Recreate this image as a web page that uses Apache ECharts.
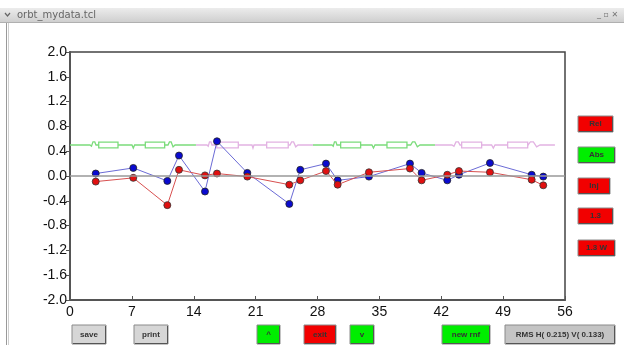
<!DOCTYPE html>
<html>
<head>
<meta charset="utf-8">
<script src="https://cdn.jsdelivr.net/npm/echarts@6/dist/echarts.min.js"></script>
<style>
html,body{margin:0;padding:0;background:#fff;}
#chart{width:624px;height:345px;}
</style>
</head>
<body>
<div id="chart"></div>
<script>
// ---- data ----
const bpmPos   = [2.91, 7.16, 11.01, 12.33, 15.27, 16.63, 20.06, 24.81, 26.05, 28.96, 30.28, 33.82, 38.46, 39.78, 42.68, 44.0, 47.51, 52.23, 53.54];
const orbitH   = [0.04, 0.13, -0.08, 0.33, -0.25, 0.56, 0.05, -0.45, 0.10, 0.20, -0.07, -0.01, 0.20, 0.05, -0.07, 0.02, 0.21, 0.02, -0.01];
const orbitV   = [-0.09, -0.03, -0.47, 0.10, 0.01, 0.04, -0.01, -0.14, -0.07, 0.08, -0.14, 0.06, 0.12, -0.07, 0.02, 0.08, 0.06, -0.06, -0.15];
const xTicks   = [0, 7, 14, 21, 28, 35, 42, 49, 56];
const yTicks   = [-2.0, -1.6, -1.2, -0.8, -0.4, 0.0, 0.4, 0.8, 1.2, 1.6, 2.0];

// lattice (magnet layout drawn at y = 0.5)
const latticeLevel     = 0.5;
const latticeCellStart = [0, 14.25, 27.49, 41.29];
const latticeCellEnd   = [14.25, 27.49, 41.29, 54.86];
const latticeBumpA     = [[2.26, 2.94], [15.5, 16.06], [29.64, 30.2], [43.21, 44.12]];
const latticeRect1     = [[3.25, 5.43], [16.6, 19.04], [30.62, 32.88], [44.31, 46.57]];
const latticeDip       = [[7.01, 7.31], [20.59, 20.81], [34.16, 34.5], [47.7, 48.08]];
const latticeRect2     = [[8.52, 10.71], [22.25, 24.69], [35.86, 38.12], [49.51, 51.78]];
const latticeBumpB     = [[11.09, 11.88], [24.89, 25.79], [38.54, 39.59], [51.81, 53.17]];

const rightButtons  = ['Rel', 'Abs', 'Inj', '1.3', '1.3 W'];
const bottomButtons = ['save', 'print', '^', 'exit', 'v', 'new rnf', 'RMS H( 0.215) V( 0.133)'];

// ---- build ----
const blueData = bpmPos.map((x, i) => [x, orbitH[i]]);
const redData  = bpmPos.map((x, i) => [x, orbitV[i]]);
const latticeData = latticeCellStart.map((s, i) => [
  s, latticeBumpA[i][0], latticeBumpA[i][1], latticeRect1[i][0], latticeRect1[i][1],
  latticeDip[i][0], latticeDip[i][1], latticeRect2[i][0], latticeRect2[i][1],
  latticeBumpB[i][0], latticeBumpB[i][1], latticeCellEnd[i], i
]);
const latticeColors = ['#7bdc7b', '#e2b2e2'];

function renderLattice(params, api) {
  const v = k => api.value(k);
  const L = latticeLevel;
  const c = (x, y) => api.coord([x, y]);
  const color = latticeColors[v(12) % 2];
  const pts = [];
  pts.push(c(v(0), L));
  // bump A
  let a = v(1), b = v(2), w = b - a;
  pts.push(c(a, L), c(a + 0.25 * w, L - 0.02), c(a + 0.5 * w, L + 0.05), c(a + 0.8 * w, L + 0.05), c(b, L));
  // dip
  a = v(5); b = v(6); w = b - a;
  pts.push(c(a, L), c(a + 0.5 * w, L - 0.05), c(b, L));
  // bump B
  a = v(9); b = v(10); w = b - a;
  pts.push(c(a, L), c(a + 0.2 * w, L + 0.05), c(a + 0.45 * w, L + 0.05), c(a + 0.72 * w, L - 0.03), c(b, L));
  pts.push(c(v(11), L));
  const rect = (x0, x1) => {
    const p0 = c(x0, L + 0.045), p1 = c(x1, L - 0.045);
    return { type: 'rect', shape: { x: p0[0], y: p0[1], width: p1[0] - p0[0], height: p1[1] - p0[1] },
             style: { fill: '#fff', stroke: color, lineWidth: 1.3 } };
  };
  return {
    type: 'group',
    children: [
      { type: 'polyline', shape: { points: pts }, style: { fill: null, stroke: color, lineWidth: 1.3 } },
      rect(v(3), v(4)),
      rect(v(7), v(8))
    ]
  };
}

function button(x, y, w, h, label, fill) {
  return {
    type: 'group', x: x, y: y,
    children: [
      { type: 'rect', shape: { x: 0, y: 0, width: w, height: h }, style: { fill: fill, stroke: '#8a8a8a', lineWidth: 1 } },
      { type: 'line', shape: { x1: 1, y1: h - 0.5, x2: w - 0.5, y2: h - 0.5 }, style: { stroke: '#555', lineWidth: 1 } },
      { type: 'line', shape: { x1: w - 0.5, y1: 1, x2: w - 0.5, y2: h - 0.5 }, style: { stroke: '#555', lineWidth: 1 } },
      { type: 'text', x: w / 2, y: h / 2, style: { text: label, fill: '#333', font: 'bold 8px "Liberation Sans", Arial, sans-serif', textAlign: 'center', textVerticalAlign: 'middle' } }
    ]
  };
}

const RED = '#f20000', GREEN = '#00ee00', GRAY = '#d6d6d6';
const rightColors = [RED, GREEN, RED, RED, RED];
const rightY = [116, 147, 178, 208, 240];
const rightW = [35, 37, 32, 35, 37];
const bottomX = [72, 134, 257, 304, 350, 442, 505];
const bottomW = [34, 34, 23, 32, 24, 48, 110];
const bottomColors = [GRAY, GRAY, GREEN, RED, GREEN, GREEN, '#c4c4c4'];

const graphics = [
  { type: 'rect', shape: { x: 0, y: 8, width: 624, height: 14 },
    style: { fill: new echarts.graphic.LinearGradient(0, 0, 0, 1, [{ offset: 0, color: '#ececec' }, { offset: 1, color: '#cfcfcf' }]) } },
  { type: 'line', shape: { x1: 0, y1: 22.5, x2: 624, y2: 22.5 }, style: { stroke: '#b0b0b0', lineWidth: 1 } },
  { type: 'polyline', shape: { points: [[5, 13], [7.5, 16], [10, 13]] }, style: { fill: null, stroke: '#666', lineWidth: 1.2 } },
  { type: 'text', x: 17, y: 15, style: { text: 'orbt_mydata.tcl', fill: '#666', font: '10px "DejaVu Sans", sans-serif', textVerticalAlign: 'middle' } },
  { type: 'text', x: 597, y: 15, style: { text: '_ ▫ ✕', fill: '#777', font: '8px "DejaVu Sans", sans-serif', textVerticalAlign: 'middle' } },
  { type: 'line', shape: { x1: 6.5, y1: 23, x2: 6.5, y2: 345 }, style: { stroke: '#9a9a9a', lineWidth: 1 } },
  { type: 'line', shape: { x1: 8.5, y1: 23, x2: 8.5, y2: 345 }, style: { stroke: '#cfcfcf', lineWidth: 1 } }
];
rightButtons.forEach((t, i) => graphics.push(button(578, rightY[i], rightW[i], 16, t, rightColors[i])));
bottomButtons.forEach((t, i) => graphics.push(button(bottomX[i], 325, bottomW[i], 19, t, bottomColors[i])));

const chart = echarts.init(document.getElementById('chart'), null, { renderer: 'canvas' });
chart.setOption({
  animation: false,
  backgroundColor: '#fff',
  textStyle: { fontFamily: '"Liberation Sans", Arial, sans-serif' },
  grid: { left: 70, top: 52, width: 495, height: 248, show: true, borderColor: '#444', borderWidth: 1.5, backgroundColor: 'transparent' },
  xAxis: {
    type: 'value', min: xTicks[0], max: xTicks[xTicks.length - 1], interval: 7,
    axisLine: { show: true, onZero: false, lineStyle: { color: '#555', width: 2 } },
    axisTick: { show: true, inside: true, length: 4, lineStyle: { color: '#555' } },
    axisLabel: { color: '#111', fontSize: 14, margin: 5, fontFamily: '"Liberation Sans", Arial, sans-serif' },
    splitLine: { show: false }
  },
  yAxis: {
    type: 'value', min: yTicks[0], max: yTicks[yTicks.length - 1], interval: 0.4,
    axisLine: { show: true, onZero: false, lineStyle: { color: '#555', width: 2 } },
    axisTick: { show: true, inside: false, length: 4, lineStyle: { color: '#555' } },
    axisLabel: { color: '#111', fontSize: 14, margin: 3, fontFamily: '"Liberation Sans", Arial, sans-serif',
                 formatter: v => (Math.abs(v) < 1e-9 ? 0 : v).toFixed(1) },
    splitLine: { show: false }
  },
  graphic: graphics,
  series: [
    {
      type: 'custom', name: 'lattice', renderItem: renderLattice, data: latticeData, silent: true, z: 1,
      encode: { x: [0, 11], y: [] }
    },
    {
      type: 'line', name: 'H', data: blueData, symbol: 'circle', symbolSize: 7, z: 3,
      lineStyle: { color: '#6b6bd6', width: 1 },
      itemStyle: { color: '#0a0ad0', borderColor: '#222', borderWidth: 0.8 },
      markLine: { silent: true, symbol: 'none', label: { show: false },
                  lineStyle: { color: '#999', width: 1.5, type: 'solid' }, data: [{ yAxis: 0 }] }
    },
    {
      type: 'line', name: 'V', data: redData, symbol: 'circle', symbolSize: 7, z: 4,
      lineStyle: { color: '#d85050', width: 1 },
      itemStyle: { color: '#e01010', borderColor: '#333', borderWidth: 0.8 }
    }
  ]
});
</script>
</body>
</html>
